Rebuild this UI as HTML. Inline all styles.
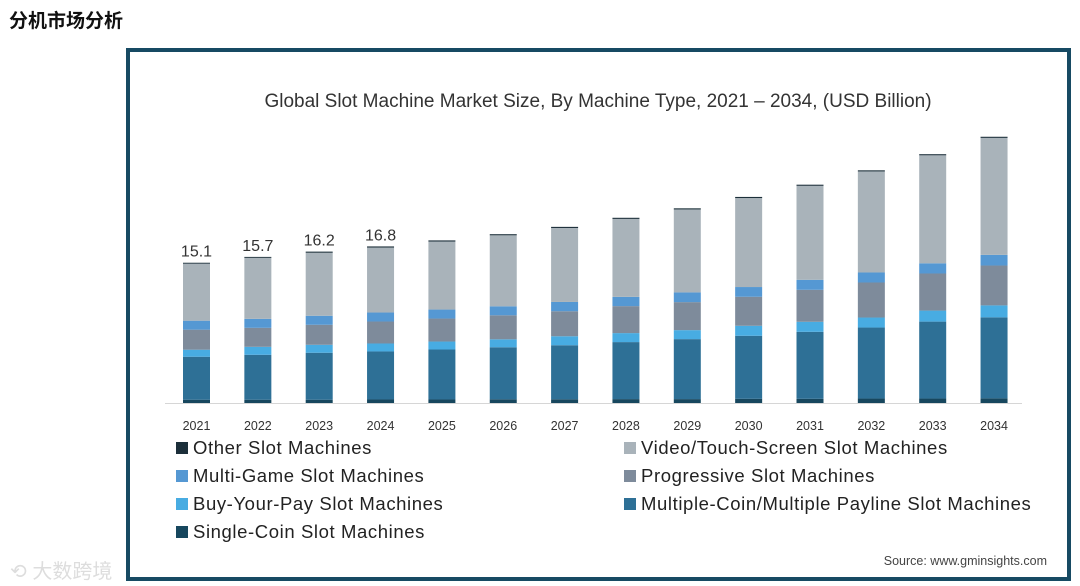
<!DOCTYPE html>
<html><head><meta charset="utf-8"><style>
body{margin:0;width:1080px;height:586px;background:#fff;position:relative;overflow:hidden;font-family:"Liberation Sans","Noto Sans CJK SC",sans-serif}
.h{position:absolute;left:9px;top:6px;font-size:19px;font-weight:bold;color:#111}
.frame{position:absolute;left:126px;top:48px;width:937px;height:525px;border:4px solid #174a63;border-top-width:4px}
svg{position:absolute;left:0;top:0}
.wm{position:absolute;left:10px;top:555px;font-size:20px;color:#ddd}
</style></head><body>
<div class="h">分机市场分析</div>
<div class="frame"></div>
<div class="wm">⟲ 大数跨境</div>
<svg id="c" width="1080" height="586"></svg>
<script>
const years=['2021','2022','2023','2024','2025','2026','2027','2028','2029','2030','2031','2032','2033','2034'];
const singleCoin=[0.35,0.35,0.35,0.38,0.38,0.4,0.4,0.42,0.42,0.45,0.45,0.48,0.48,0.5];
const multiCoin=[4.64,4.85,5.07,5.18,5.39,5.61,5.83,6.15,6.47,6.8,7.23,7.66,8.3,8.74];
const buyYourPay=[0.76,0.86,0.86,0.86,0.86,0.86,0.97,0.97,0.97,1.08,1.08,1.08,1.19,1.29];
const progressive=[2.16,2.05,2.16,2.37,2.48,2.59,2.7,2.91,3.02,3.13,3.45,3.78,4.0,4.3];
const multiGame=[0.97,0.97,0.97,0.97,0.97,0.97,1.0,1.0,1.05,1.05,1.08,1.08,1.1,1.15];
const videoTouch=[6.15,6.58,6.8,7.01,7.34,7.66,7.98,8.41,8.95,9.6,10.14,10.9,11.65,12.62];
const otherSlot=[0.1,0.1,0.12,0.12,0.12,0.12,0.12,0.12,0.12,0.12,0.12,0.12,0.12,0.12];
const totalLabels=['15.1','15.7','16.2','16.8'];
const seriesNames=['Other Slot Machines','Video/Touch-Screen Slot Machines','Multi-Game Slot Machines','Progressive Slot Machines','Buy-Your-Pay Slot Machines','Multiple-Coin/Multiple Payline Slot Machines','Single-Coin Slot Machines'];
const NS='http://www.w3.org/2000/svg';
const svg=document.getElementById('c');
const base=403,ppu=9.27,x0=196.5,step=61.35,bw=27;
const y=v=>base-v*ppu;
const xc=i=>x0+i*step;
function mk(t,a){const e=document.createElementNS(NS,t);for(const k in a)e.setAttribute(k,a[k]);svg.appendChild(e);return e;}
const stack=[[singleCoin,'#17475e','single-coin'],[multiCoin,'#2e7096','multiple-coin'],[buyYourPay,'#48ace2','buy-your-pay'],[progressive,'#7e8b9b','progressive'],[multiGame,'#5598d3','multi-game'],[videoTouch,'#a9b3ba','video-touch-screen'],[otherSlot,'#1c2f3a','other']];
const colorMap={'Other Slot Machines':'#1c2f3a','Video/Touch-Screen Slot Machines':'#a9b3ba','Multi-Game Slot Machines':'#5598d3','Progressive Slot Machines':'#7e8b9b','Buy-Your-Pay Slot Machines':'#48ace2','Multiple-Coin/Multiple Payline Slot Machines':'#2e7096','Single-Coin Slot Machines':'#17475e'};
let t=mk('text',{x:598,y:107,'text-anchor':'middle','font-size':19,fill:'#333'});t.textContent='Global  Slot Machine Market Size, By Machine Type, 2021 – 2034, (USD Billion)';


let ax=mk('line',{x1:165,x2:1022,y1:base+0.5,y2:base+0.5,stroke:'#d6d6d6','stroke-width':1});


years.forEach((yr,i)=>{
  let cum=0;
  stack.forEach(([arr,col,nm])=>{
    const v=arr[i];
    const r=mk('rect',{x:xc(i)-bw/2,y:y(cum+v),width:bw,height:v*ppu,fill:col});
    
    
    cum+=v;
  });
  const l=mk('text',{x:xc(i),y:430,'text-anchor':'middle','font-size':12.5,fill:'#333'});l.textContent=yr;
  
  
  if(i<totalLabels.length){
    const tl=mk('text',{x:xc(i),y:y(cum)-6,'text-anchor':'middle','font-size':16,fill:'#333'});tl.textContent=totalLabels[i];
    
    
  }
});
seriesNames.forEach((n,k)=>{
  const col=k%2,row=Math.floor(k/2);
  const lx=col?624:176, ly=447+row*28;
  const s=mk('rect',{x:lx,y:ly-5,width:12,height:12,fill:colorMap[n]});
  
  
  const tx=mk('text',{x:lx+17,y:ly+7,'font-size':18.5,'letter-spacing':0.6,fill:'#222'});tx.textContent=n;
  
  
});
const src=mk('text',{x:1047,y:565,'text-anchor':'end','font-size':12.5,fill:'#444'});src.textContent='Source: www.gminsights.com';


</script>
</body></html>
